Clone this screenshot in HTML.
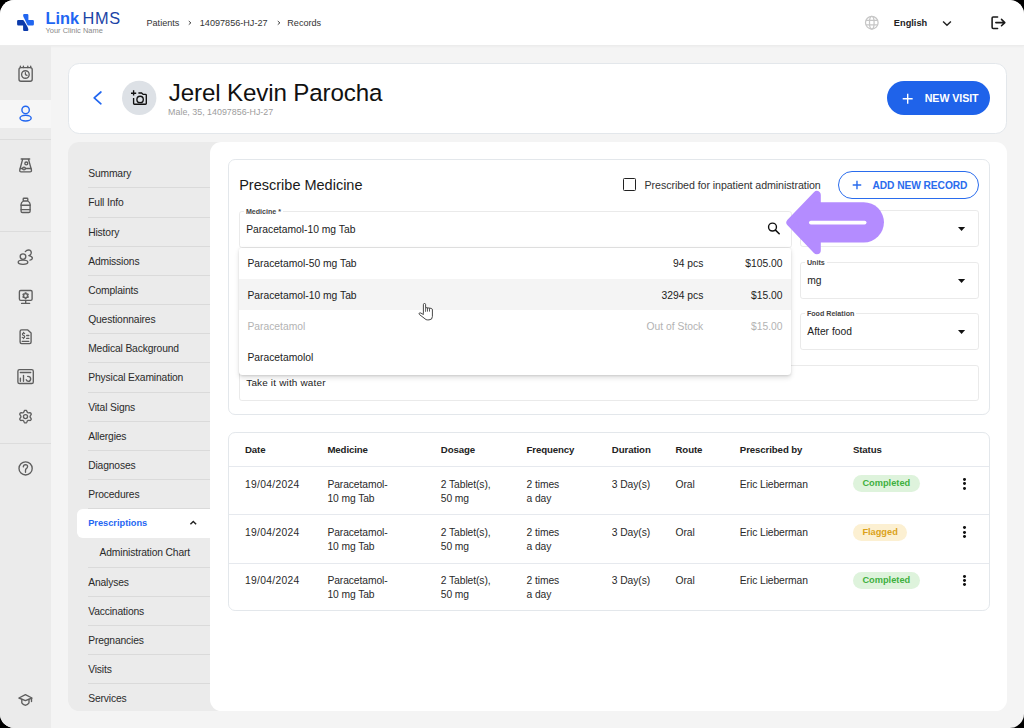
<!DOCTYPE html>
<html><head><meta charset="utf-8">
<style>
*{box-sizing:border-box;margin:0;padding:0}
html,body{width:1024px;height:728px;overflow:hidden;background:#000}
body{font-family:"Liberation Sans",sans-serif;color:#222}
#root{position:absolute;left:0;top:0;width:1440px;height:1024px;zoom:0.711111;background:#f4f4f4;border-radius:20px;overflow:hidden}
.abs{position:absolute}
.t{position:absolute;white-space:nowrap;line-height:1}
svg{position:absolute;overflow:visible}
/* header */
#hdr{position:absolute;left:0;top:0;width:1440px;height:64px;background:#fff;border-bottom:1px solid #ececec;box-shadow:0 1px 4px rgba(0,0,0,0.05)}
/* sidebar */
#side{position:absolute;left:0;top:64px;width:72px;height:960px;background:#ebebeb}
.sdiv{position:absolute;left:0;width:72px;height:1px;background:#dcdcdc}
/* cards */
.card{position:absolute;background:#fff;border:1px solid #e3e7eb}
#nav{position:absolute;left:96px;top:200px;width:230px;height:800px;background:#ebebeb;border-radius:16px;overflow:hidden}
.nv{position:absolute;left:28px;width:210px;height:41px;border-bottom:1px solid #dadada;font-size:14.5px;letter-spacing:-0.2px;line-height:43px;color:#2a2a2a}
#main{position:absolute;left:296px;top:200px;width:1120px;height:800px;background:#fff;border-radius:16px}
.fld{position:absolute;border:1px solid #eaeaea;border-radius:4px;background:#fff}
.lbl{position:absolute;top:-5.8px;left:5px;padding:0 3px;background:#fff;font-size:10px;font-weight:bold;line-height:12px;color:#444;white-space:nowrap}
.val{position:absolute;left:8.5px;font-size:14.5px;color:#222;white-space:nowrap;line-height:1}
.th{position:absolute;font-size:13.6px;letter-spacing:-0.15px;font-weight:bold;color:#222;white-space:nowrap;line-height:1}
.td{position:absolute;font-size:14.5px;letter-spacing:-0.12px;color:#2a2a2a;white-space:nowrap;line-height:19.4px}
.hl{position:absolute;left:0;width:1070px;height:1px;background:#e6e9ee}
.chip{position:absolute;height:24px;border-radius:12px;font-size:13px;font-weight:bold;line-height:24px;text-align:center}
.ok{background:#def3dc;color:#3fb03f}
.fl{background:#fcf0d2;color:#dba21a}
.keb{position:absolute;width:4px}
.keb i{display:block;width:4px;height:4px;border-radius:2px;background:#111;margin-bottom:2px}
</style></head>
<body>
<div id="root">
  <!-- HEADER -->
  <div id="hdr">
    <div class="t" style="left:64px;top:14.4px;font-size:23px;font-weight:bold;color:#1f66f2">Link</div>
    <div class="t" style="left:116px;top:14.4px;font-size:23px;color:#1b44a6;letter-spacing:1px">HMS</div>
    <div class="t" style="left:64px;top:38px;font-size:10.5px;color:#8a8a8a">Your Clinic Name</div>
    <div class="t" style="left:206px;top:27.4px;font-size:12.8px;color:#333">Patients</div>
    <svg style="left:263px;top:28px" width="8" height="8" viewBox="0 0 8 8"><path d="M2.5 1.5 L5.5 4 L2.5 6.5" fill="none" stroke="#444" stroke-width="1.4"/></svg>
    <div class="t" style="left:281px;top:27.4px;font-size:12.8px;color:#333">14097856-HJ-27</div>
    <svg style="left:388px;top:28px" width="8" height="8" viewBox="0 0 8 8"><path d="M2.5 1.5 L5.5 4 L2.5 6.5" fill="none" stroke="#444" stroke-width="1.4"/></svg>
    <div class="t" style="left:404px;top:27.4px;font-size:12.8px;color:#333">Records</div>
    <div class="t" style="left:1257px;top:27px;font-size:13px;font-weight:bold;color:#222">English</div>
    <svg style="left:1325px;top:28px" width="14" height="10" viewBox="0 0 14 10"><path d="M1.5 2 L7 7.5 L12.5 2" fill="none" stroke="#222" stroke-width="2"/></svg>

  </div>

  <!-- SIDEBAR -->
  <div id="side">
    <div class="abs" style="left:0;top:76px;width:72px;height:40px;background:#f6f6f6"></div>
    <!-- calendar clock (center 36,104 => side top offset 64) -->
    <div class="sdiv" style="top:132px"></div>
    <div class="sdiv" style="top:261.5px"></div>
    <div class="sdiv" style="top:558.3px"></div>
  </div>

  <!-- PATIENT CARD -->
  <div class="card" style="left:96px;top:88px;width:1320px;height:100px;border-radius:16px">
    <div class="t" style="left:140px;top:24.5px;font-size:34px;color:#111;letter-spacing:-0.2px">Jerel Kevin Parocha</div>
    <div class="t" style="left:139px;top:62px;font-size:12.5px;color:#9d9d9d">Male, 35, 14097856-HJ-27</div>
    <div class="abs" style="left:1150px;top:25px;width:145px;height:48px;border-radius:24px;background:#1f63ea"></div>
    <svg style="left:1171px;top:41px" width="16" height="16" viewBox="0 0 16 16"><path d="M8 1 V15 M1 8 H15" stroke="#fff" stroke-width="2"/></svg>
    <div class="t" style="left:1203px;top:41.2px;font-size:15px;font-weight:bold;color:#fff;letter-spacing:-0.1px">NEW VISIT</div>
  </div>

  <!-- NAV PANEL -->
  <div id="nav">
    <div class="nv" style="top:24px">Summary</div>
    <div class="nv" style="top:65px">Full Info</div>
    <div class="nv" style="top:106px">History</div>
    <div class="nv" style="top:147px">Admissions</div>
    <div class="nv" style="top:188px">Complaints</div>
    <div class="nv" style="top:229px">Questionnaires</div>
    <div class="nv" style="top:270px">Medical Background</div>
    <div class="nv" style="top:311px">Physical Examination</div>
    <div class="nv" style="top:352px">Vital Signs</div>
    <div class="nv" style="top:393px">Allergies</div>
    <div class="nv" style="top:434px">Diagnoses</div>
    <div class="nv" style="top:475px">Procedures</div>
    <div class="abs" style="left:12px;top:516px;width:230px;height:40px;background:#fff;border-radius:8px"></div>
    <div class="t" style="left:28px;top:529.5px;font-size:13px;font-weight:bold;color:#1f66f2">Prescriptions</div>
    <svg style="left:170px;top:531px" width="12" height="8" viewBox="0 0 12 8"><path d="M2 6 L6 2 L10 6" fill="none" stroke="#222" stroke-width="2"/></svg>
    <div class="nv" style="top:556px;left:44px;width:200px;border-bottom:none">Administration Chart</div>
    <div class="abs" style="left:28px;top:597.1px;width:210px;height:1px;background:#dadada"></div>
    <div class="nv" style="top:598.1px">Analyses</div>
    <div class="nv" style="top:639.1px">Vaccinations</div>
    <div class="nv" style="top:680.2px">Pregnancies</div>
    <div class="nv" style="top:721.3px">Visits</div>
    <div class="nv" style="top:762.4px">Services</div>
  </div>

  <!-- MAIN PANEL -->
  <div id="main">
    <!-- prescribe card -->
    <div class="card" style="left:24px;top:24px;width:1072px;height:360px;border-radius:10px">
      <div class="t" style="left:15px;top:25.5px;font-size:20.4px;color:#1a1a1a">Prescribe Medicine</div>
      <div class="abs" style="left:555px;top:25px;width:18px;height:18px;border:2px solid #222;border-radius:2px"></div>
      <div class="t" style="left:585px;top:28px;font-size:15px;color:#333;letter-spacing:-0.1px">Prescribed for inpatient administration</div>
      <div class="abs" style="left:857px;top:15px;width:198px;height:39.5px;border:2px solid #2a6ced;border-radius:20px"></div>
      <svg style="left:877px;top:27.5px" width="14" height="14" viewBox="0 0 14 14"><path d="M7 1 V13 M1 7 H13" stroke="#2a6ced" stroke-width="2"/></svg>
      <div class="t" style="left:905.5px;top:28.6px;font-size:14.4px;letter-spacing:-0.1px;font-weight:bold;color:#2a6ced">ADD NEW RECORD</div>

      <!-- medicine field -->
      <div class="fld" style="left:15px;top:71px;width:777px;height:52px">
        <div class="lbl">Medicine *</div>
        <div class="val" style="top:18px">Paracetamol-10 mg Tab</div>
      </div>
      <div class="fld" style="left:804px;top:70px;width:251px;height:52px">
        <svg style="left:220.5px;top:22px" width="10" height="6" viewBox="0 0 10 6"><path d="M0 0 H10 L5 5.5 Z" fill="#111"/></svg>
      </div>
      <div class="fld" style="left:804px;top:143.3px;width:251px;height:52px">
        <div class="lbl">Units</div>
        <div class="val" style="top:18px">mg</div>
        <svg style="left:220.5px;top:22px" width="10" height="6" viewBox="0 0 10 6"><path d="M0 0 H10 L5 5.5 Z" fill="#111"/></svg>
      </div>
      <div class="fld" style="left:804px;top:215.3px;width:251px;height:52px">
        <div class="lbl">Food Relation</div>
        <div class="val" style="top:18px">After food</div>
        <svg style="left:220.5px;top:22px" width="10" height="6" viewBox="0 0 10 6"><path d="M0 0 H10 L5 5.5 Z" fill="#111"/></svg>
      </div>
      <div class="fld" style="left:15px;top:287.5px;width:1041px;height:51.3px">
        <div class="val" style="top:16.6px;font-size:14px;letter-spacing:0.25px">Take it with water</div>
      </div>
    </div>

    <!-- dropdown -->
    <div class="abs" style="left:40px;top:149px;width:777px;height:178px;background:#fff;border-radius:3px 3px 5px 5px;box-shadow:0 4px 8px rgba(0,0,0,0.12),0 1px 3px rgba(0,0,0,0.1)">
      <div class="abs" style="left:0;top:43px;width:777px;height:43.5px;background:#f4f4f4"></div>
      <div class="val" style="left:12px;top:15.6px">Paracetamol-50 mg Tab</div>
      <div class="val" style="left:auto;right:124px;top:15.6px">94 pcs</div>
      <div class="val" style="left:auto;right:12.5px;top:15.6px">$105.00</div>
      <div class="val" style="left:12px;top:59.6px">Paracetamol-10 mg Tab</div>
      <div class="val" style="left:auto;right:124px;top:59.6px">3294 pcs</div>
      <div class="val" style="left:auto;right:12.5px;top:59.6px">$15.00</div>
      <div class="val" style="left:12px;top:103.6px;color:#b3b3b3">Paracetamol</div>
      <div class="val" style="left:auto;right:124px;top:103.6px;color:#b3b3b3">Out of Stock</div>
      <div class="val" style="left:auto;right:12.5px;top:103.6px;color:#b3b3b3">$15.00</div>
      <div class="val" style="left:12px;top:147.6px">Paracetamolol</div>
    </div>
    <!-- table card -->
    <div class="card" style="left:24px;top:408px;width:1072px;height:251.5px;border-radius:10px">
      <div class="th" style="left:23px;top:16.8px">Date</div>
      <div class="th" style="left:139px;top:16.8px">Medicine</div>
      <div class="th" style="left:298.5px;top:16.8px">Dosage</div>
      <div class="th" style="left:419px;top:16.8px">Frequency</div>
      <div class="th" style="left:539px;top:16.8px">Duration</div>
      <div class="th" style="left:628.5px;top:16.8px">Route</div>
      <div class="th" style="left:719px;top:16.8px">Prescribed by</div>
      <div class="th" style="left:878px;top:16.8px">Status</div>
      <div class="hl" style="top:46px"></div>
      <div class="hl" style="top:114px"></div>
      <div class="hl" style="top:182px"></div>
      <div class="td" style="left:23px;top:62.4px;letter-spacing:0.45px">19/04/2024</div>
      <div class="td" style="left:139px;top:62.4px">Paracetamol-<br>10 mg Tab</div>
      <div class="td" style="left:298.5px;top:62.4px">2 Tablet(s),<br>50 mg</div>
      <div class="td" style="left:419px;top:62.4px">2 times<br>a day</div>
      <div class="td" style="left:539px;top:62.4px">3 Day(s)</div>
      <div class="td" style="left:628.5px;top:62.4px">Oral</div>
      <div class="td" style="left:719px;top:62.4px">Eric Lieberman</div>
      <div class="chip ok" style="left:878px;top:58.8px;width:94px">Completed</div>
      <div class="keb" style="left:1033px;top:63px"><i></i><i></i><i></i></div>
      <div class="td" style="left:23px;top:130.4px;letter-spacing:0.45px">19/04/2024</div>
      <div class="td" style="left:139px;top:130.4px">Paracetamol-<br>10 mg Tab</div>
      <div class="td" style="left:298.5px;top:130.4px">2 Tablet(s),<br>50 mg</div>
      <div class="td" style="left:419px;top:130.4px">2 times<br>a day</div>
      <div class="td" style="left:539px;top:130.4px">3 Day(s)</div>
      <div class="td" style="left:628.5px;top:130.4px">Oral</div>
      <div class="td" style="left:719px;top:130.4px">Eric Lieberman</div>
      <div class="chip fl" style="left:878px;top:126.8px;width:76.5px">Flagged</div>
      <div class="keb" style="left:1033px;top:131px"><i></i><i></i><i></i></div>
      <div class="td" style="left:23px;top:198.4px;letter-spacing:0.45px">19/04/2024</div>
      <div class="td" style="left:139px;top:198.4px">Paracetamol-<br>10 mg Tab</div>
      <div class="td" style="left:298.5px;top:198.4px">2 Tablet(s),<br>50 mg</div>
      <div class="td" style="left:419px;top:198.4px">2 times<br>a day</div>
      <div class="td" style="left:539px;top:198.4px">3 Day(s)</div>
      <div class="td" style="left:628.5px;top:198.4px">Oral</div>
      <div class="td" style="left:719px;top:198.4px">Eric Lieberman</div>
      <div class="chip ok" style="left:878px;top:194.8px;width:94px">Completed</div>
      <div class="keb" style="left:1033px;top:199px"><i></i><i></i><i></i></div>
    </div>
  </div>
</div>
<svg id="ov" style="position:absolute;left:0;top:0" width="1024" height="728" viewBox="0 0 1024 728">
 <g fill="none" stroke="#5e5e5e" stroke-width="1.35" stroke-linecap="round" stroke-linejoin="round">
  <!-- calendar clock -->
  <rect x="19" y="67.6" width="13.2" height="13.6" rx="2"/>
  <path d="M20.4 66.2 V67.6 M23.4 66.2 V67.6 M27.8 66.2 V67.6 M30.7 66.2 V67.6"/>
  <circle cx="25.4" cy="74.5" r="3.8"/>
  <path d="M25.4 72.6 V74.6 L27 75.4" stroke-width="1.2"/>
  <!-- flask -->
  <path d="M21.2 159 H29.7"/>
  <path d="M22.6 159.4 L19.8 169.8 Q19.4 171.8 21.2 171.8 H30 Q31.8 171.8 31.4 169.8 L28.5 159.4"/>
  <circle cx="26.3" cy="163.4" r="1.45"/>
  <path d="M20.4 168.5 H22.6 M25.4 168.5 H31"/>
  <circle cx="24" cy="168.5" r="1.35"/>
  <!-- bottle -->
  <rect x="23.2" y="198.2" width="4.6" height="2.8" rx="0.8"/>
  <path d="M23.4 201 Q21.1 202.2 21.1 204.3 V211.2 Q21.1 212.5 22.4 212.5 H28.8 Q30.1 212.5 30.1 211.2 V204.3 Q30.1 202.2 27.8 201"/>
  <path d="M21.1 205.2 H30.1 M21.1 209.6 H30.1"/>
  <!-- users -->
  <circle cx="23" cy="256.6" r="2.8"/>
  <ellipse cx="23" cy="262.2" rx="4.8" ry="2.1"/>
  <path d="M25.3 251.6 Q27.3 249.3 29.8 250.2 Q31.9 251.3 31 253.8 Q30.3 255.4 28.8 255.7 Q32.3 256.4 32.4 258.2 Q32.2 259.9 30 260.1"/>
  <!-- monitor -->
  <rect x="19.4" y="290.5" width="12.7" height="9.9" rx="1.3"/>
  <path d="M25.7 300.4 V303.4 M21.6 303.4 H29.6"/>
  <path d="M27.40 295.70 L27.39 295.86 L27.56 296.05 L27.87 296.31 L28.14 296.63 L28.23 296.93 L28.11 297.15 L27.98 297.36 L27.67 297.44 L27.26 297.36 L26.88 297.23 L26.63 297.17 L26.50 297.26 L26.36 297.33 L26.28 297.57 L26.21 297.97 L26.07 298.37 L25.85 298.59 L25.60 298.60 L25.35 298.59 L25.13 298.37 L24.99 297.97 L24.92 297.57 L24.84 297.33 L24.70 297.26 L24.57 297.17 L24.32 297.23 L23.94 297.36 L23.53 297.44 L23.22 297.36 L23.09 297.15 L22.97 296.93 L23.06 296.63 L23.33 296.31 L23.64 296.05 L23.81 295.86 L23.80 295.70 L23.81 295.54 L23.64 295.35 L23.33 295.09 L23.06 294.77 L22.97 294.47 L23.09 294.25 L23.22 294.04 L23.53 293.96 L23.94 294.04 L24.32 294.17 L24.57 294.23 L24.70 294.14 L24.84 294.07 L24.92 293.83 L24.99 293.43 L25.13 293.03 L25.35 292.81 L25.60 292.80 L25.85 292.81 L26.07 293.03 L26.21 293.43 L26.28 293.83 L26.36 294.07 L26.50 294.14 L26.63 294.23 L26.88 294.17 L27.26 294.04 L27.67 293.96 L27.98 294.04 L28.11 294.25 L28.23 294.47 L28.14 294.77 L27.87 295.09 L27.56 295.35 L27.39 295.54 L27.40 295.70 Z" stroke-width="1.25"/>
  <!-- document -->
  <path d="M27.8 329.9 H21.6 Q20.1 329.9 20.1 331.4 V342.1 Q20.1 343.6 21.6 343.6 H29.6 Q31.1 343.6 31.1 342.1 V332.9 Z"/>
  <path d="M24.6 333.6 Q23.8 333 23 333.3 Q22.3 333.7 22.5 334.6 Q22.8 335.3 23.6 335.5 Q24.6 335.8 24.7 336.6 Q24.8 337.6 23.7 337.8 Q22.9 337.9 22.3 337.3 M23.6 332.3 V333.1 M23.6 337.9 V338.6" stroke-width="1.2"/>
  <path d="M26.7 335.5 H28.8 M26.7 338.4 H28.8 M22.2 341.3 H28.8"/>
  <!-- report -->
  <rect x="17.9" y="369.6" width="15.4" height="13.9" rx="1.6"/>
  <path d="M20.3 372.5 H30.7 M20.4 378.1 V381.3 M23.5 375.3 V381.3"/>
  <path d="M27.7 376.4 Q30.5 376.3 30.7 378.9 Q30.6 381.3 28.4 381.4 Q26.8 381.4 26.2 379.8"/>
  <!-- gear -->
  <path d="M30.10 416.60 L30.09 416.90 L30.16 417.21 L30.45 417.58 L30.76 418.01 L31.05 418.48 L31.23 418.97 L31.15 419.39 L30.96 419.75 L30.74 420.10 L30.42 420.38 L29.90 420.46 L29.35 420.45 L28.83 420.39 L28.36 420.33 L28.06 420.42 L27.80 420.58 L27.53 420.73 L27.30 420.94 L27.12 421.38 L26.91 421.86 L26.64 422.34 L26.31 422.75 L25.91 422.89 L25.50 422.90 L25.09 422.89 L24.69 422.75 L24.36 422.34 L24.09 421.86 L23.88 421.38 L23.70 420.94 L23.47 420.73 L23.20 420.58 L22.94 420.42 L22.64 420.33 L22.17 420.39 L21.65 420.45 L21.10 420.46 L20.58 420.38 L20.26 420.10 L20.04 419.75 L19.85 419.39 L19.77 418.97 L19.95 418.48 L20.24 418.01 L20.55 417.58 L20.84 417.21 L20.91 416.90 L20.90 416.60 L20.91 416.30 L20.84 415.99 L20.55 415.62 L20.24 415.19 L19.95 414.72 L19.77 414.23 L19.85 413.81 L20.04 413.45 L20.26 413.10 L20.58 412.82 L21.10 412.74 L21.65 412.75 L22.17 412.81 L22.64 412.87 L22.94 412.78 L23.20 412.62 L23.47 412.47 L23.70 412.26 L23.88 411.82 L24.09 411.34 L24.36 410.86 L24.69 410.45 L25.09 410.31 L25.50 410.30 L25.91 410.31 L26.31 410.45 L26.64 410.86 L26.91 411.34 L27.12 411.82 L27.30 412.26 L27.53 412.47 L27.80 412.62 L28.06 412.78 L28.36 412.87 L28.83 412.81 L29.35 412.75 L29.90 412.74 L30.42 412.82 L30.74 413.10 L30.96 413.45 L31.15 413.81 L31.23 414.23 L31.05 414.72 L30.76 415.19 L30.45 415.62 L30.16 415.99 L30.09 416.30 L30.10 416.60 Z"/>
  <circle cx="25.5" cy="416.6" r="2.05"/>
  <!-- help -->
  <circle cx="25.6" cy="468.4" r="6.6"/>
  <path d="M23.3 466.9 Q23.4 464.7 25.5 464.6 Q27.6 464.7 27.6 466.5 Q27.5 467.8 26.3 468.6 Q25.5 469.2 25.5 470.4 V472.2"/>
  <!-- school -->
  <path d="M18.9 698 L25.4 694.6 L32 698 L25.4 700.6 Z"/>
  <path d="M31.5 698.4 V701.6"/>
  <path d="M21.8 699.3 V702.8 Q23.4 705.2 25.4 705.2 Q27.4 705.2 29 702.8 V699.5"/>
 </g>
 <g fill="none" stroke="#2166f0" stroke-width="1.4">
  <circle cx="25.6" cy="109.9" r="3.7"/>
  <ellipse cx="25.6" cy="118.1" rx="5.6" ry="2.9"/>
 </g>
  <!-- logo -->
  <path d="M23.1 15.3 Q23.1 14.1 24.3 14.1 H27.3 Q28.4 14.1 28.4 15.3 V19.9 H32.7 Q33.9 19.9 33.9 21.1 V24.2 Q33.9 25.4 32.7 25.4 H28.2 Q27.6 25.4 27.3 24.7 L24.3 18.6 Q23.1 16.8 23.1 15.3 Z" fill="#2166f0"/>
  <path d="M28.4 29.7 Q28.4 30.9 27.2 30.9 H24.2 Q23.1 30.9 23.1 29.7 V25.4 H18.3 Q17.1 25.4 17.1 24.2 V21.1 Q17.1 19.9 18.3 19.9 H22.7 Q23.4 19.9 23.8 20.5 L27.2 26.2 Q28.4 28.2 28.4 29.7 Z" fill="#0b3aab"/>
  <!-- globe -->
  <g fill="none" stroke="#c6c6c6" stroke-width="1.25">
   <circle cx="871.8" cy="22.7" r="6.3"/>
   <path d="M866 20.3 H877.6 M866 24.9 H877.6"/>
   <ellipse cx="871.8" cy="22.7" rx="2.3" ry="6.3"/>
  </g>
  <!-- patient card icons -->
  <path d="M100.9 92 L94.2 97.9 L100.9 103.8" fill="none" stroke="#2166f0" stroke-width="1.7" stroke-linecap="round" stroke-linejoin="round"/>
  <circle cx="139.2" cy="97.9" r="17.2" fill="#dde1e6"/>
  <g fill="none" stroke="#111" stroke-width="1.35">
   <path d="M133.6 90.3 V95.5 M131 93.2 H136.2"/>
   <path d="M138.4 93 H141.6 L143.1 94.4 H145.5 Q146.3 94.4 146.3 95.2 V103.4 Q146.3 104.2 145.5 104.2 H134.4 Q133.6 104.2 133.6 103.4 V97.9"/>
   <circle cx="140.1" cy="99.4" r="3.2"/>
  </g>
  <!-- logout -->
  <g fill="none" stroke="#1a1a1a" stroke-width="1.55" stroke-linecap="round" stroke-linejoin="round">
   <path d="M997.6 16.9 H993.2 Q992.1 16.9 992.1 18 V27.3 Q992.1 28.4 993.2 28.4 H997.6"/>
   <path d="M995.8 22.6 H1004.6 M1001.5 19.4 L1004.8 22.6 L1001.5 25.8"/>
  </g>
  <!-- search -->
  <g fill="none" stroke="#111" stroke-width="1.4" stroke-linecap="round">
   <circle cx="772.5" cy="227.1" r="3.95"/>
   <path d="M775.5 230.1 L779.2 233.8" stroke-width="1.55"/>
  </g>
  <!-- purple arrow -->
  <path d="M790.4 222.6 L816.8 194.9 L816.8 250.3 Z" fill="#b48cff" stroke="#b48cff" stroke-width="8" stroke-linejoin="round"/>
  <path d="M818 222.35 H863.8" stroke="#b48cff" stroke-width="40.3" stroke-linecap="round"/>
  <path d="M810.9 222.6 H864.6" stroke="#fff" stroke-width="3.8" stroke-linecap="round"/>
  <!-- cursor -->
  <path d="M423.4 313.4 V304.6 Q423.4 303.5 424.5 303.5 Q425.6 303.5 425.6 304.6 V307.6 L431.3 308.4 Q432.4 308.7 432.4 310 V316.5 Q432.4 319.9 429 319.9 H427.3 Q426 319.9 425 318.8 L419.5 314.6 Q418.6 313.8 419.2 313.2 Q419.9 312.6 420.8 313 L423.4 314.5 Z" fill="#fff" stroke="#333" stroke-width="0.9" stroke-linejoin="round"/>
  <path d="M425.6 307.6 V311.8 M427.5 308 V311.6 M429.5 308.3 V311.6" stroke="#333" stroke-width="0.8" fill="none"/>
</svg>
</body></html>
